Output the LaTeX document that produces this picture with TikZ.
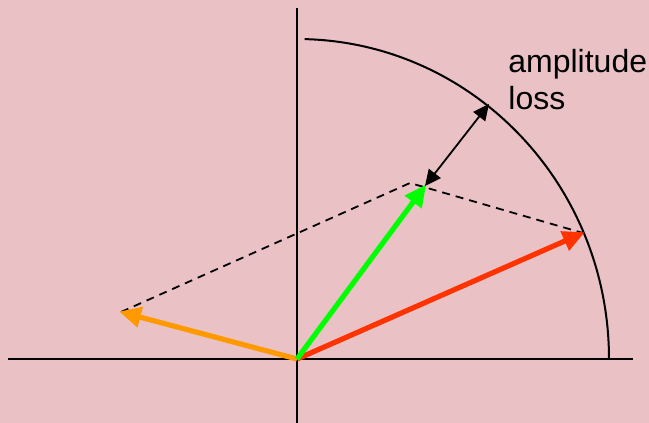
\documentclass[tikz,border=0pt]{standalone}
\usepackage{fontspec}
\setmainfont{Liberation Sans}
\usetikzlibrary{arrows.meta}
\definecolor{bgpink}{RGB}{234,194,198}
\definecolor{vorange}{RGB}{255,153,0}
\definecolor{vgreen}{RGB}{0,255,0}
\definecolor{vred}{RGB}{255,51,0}
\begin{document}
\begin{tikzpicture}[x=0.5pt,y=-0.5pt,
  axis/.style={line width=1pt,black},
  vec/.style={line width=2.6pt,-{Triangle[length=11pt,width=10pt]},shorten >=-1pt},
  dashline/.style={line width=0.9pt,dash pattern=on 4pt off 3pt},
  loss/.style={line width=0.9pt,{Triangle[length=8pt,width=7.5pt]}-{Triangle[length=8pt,width=7.5pt]}}]
\fill[bgpink] (0,0) rectangle (649,423);
\useasboundingbox (0,0) rectangle (649,423);
\coordinate (O) at (297,359);
\coordinate (xl) at (8,359);
\coordinate (xr) at (633,359);
\coordinate (yt) at (297,8);
\coordinate (yb) at (297,423);
\coordinate (A) at (121,312);
\coordinate (B) at (583,233);
\coordinate (S) at (410,183);
\coordinate (G) at (425,186);
\coordinate (L) at (489,104);
\draw[axis] (xl) -- (xr);
\draw[axis] (yt) -- (yb);
\draw[axis] (609,359) arc[start angle=0,end angle=88.6,x radius=312,y radius=-320];
\draw[dashline] (A) -- (S) -- (B);
\draw[vec,vorange] (O) -- (A);
\draw[vec,vred] (O) -- (B);
\draw[vec,vgreen] (O) -- (G);
\draw[loss] (G) -- (L);
\node[anchor=base west,inner sep=0pt,font=\fontsize{16pt}{18.5pt}\selectfont,align=left] (T) at (508,109) {amplitude\\loss};
\end{tikzpicture}
\end{document}
